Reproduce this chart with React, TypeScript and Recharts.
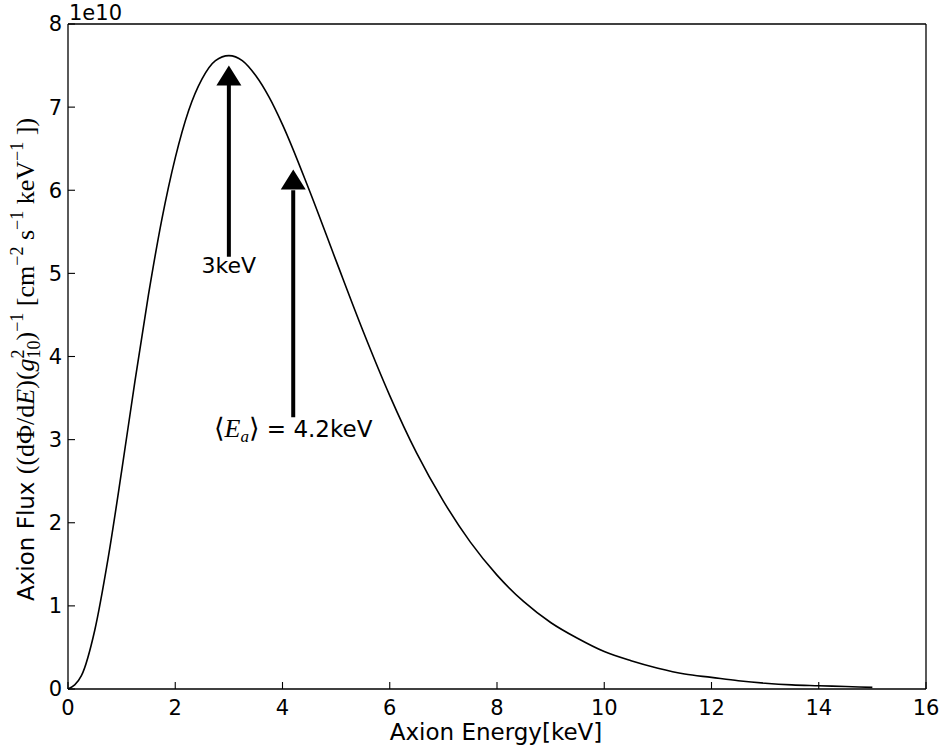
import React from 'react';
import { LineChart, Line, XAxis, YAxis, ReferenceLine, ReferenceDot } from 'recharts';

// energy grid [keV] and flux (units of 1e10)
const energy = [
  0, 0.25, 0.5, 0.75, 1, 1.25, 1.5, 1.75, 2, 2.25, 2.5, 2.75, 3, 3.25, 3.5, 3.75, 4,
  4.5, 5, 5.5, 6, 6.5, 7, 7.5, 8, 8.5, 9, 9.5, 10, 10.5, 11, 11.5, 12, 12.5, 13, 13.5,
  14, 14.5, 15,
];
const flux = [
  0, 0.16, 0.71, 1.58, 2.62, 3.71, 4.74, 5.65, 6.39, 6.96, 7.34, 7.56, 7.62, 7.56, 7.38,
  7.12, 6.79, 6.0, 5.15, 4.31, 3.53, 2.84, 2.26, 1.77, 1.37, 1.05, 0.8, 0.61, 0.45, 0.34,
  0.25, 0.18, 0.14, 0.1, 0.07, 0.05, 0.04, 0.03, 0.02,
];

const xTicks = [0, 2, 4, 6, 8, 10, 12, 14, 16];
const yTicks = [0, 1, 2, 3, 4, 5, 6, 7, 8];

// annotation arrows: x position, tip, neck (base of head), tail, text baseline
const arrowX = [3, 4.2];
const arrowTip = [7.5, 6.25];
const arrowNeck = [7.3, 6.0];
const arrowTail = [5.2, 3.27];
const arrowLabelY = [5.0, 3.03];

const data = energy.map((e, i) => ({ e, flux: flux[i] }));

const SANS = 'DejaVu Sans, sans-serif';
const SERIF = 'Liberation Serif, DejaVu Serif, serif';
const tickStyle = { fill: '#000', fontSize: 21, fontFamily: SANS };

function ArrowHead(props: any) {
  const { cx, cy } = props;
  return (
    <polygon
      points={`${cx},${cy} ${cx - 12.5},${cy + 20} ${cx + 12.5},${cy + 20}`}
      fill="#000"
    />
  );
}

function PeakLabel(props: any) {
  const { cx, cy } = props;
  return (
    <text x={cx} y={cy} textAnchor="middle" fontSize={22} fontFamily={SANS} fill="#000">
      3keV
    </text>
  );
}

function MeanLabel(props: any) {
  const { cx, cy } = props;
  return (
    <text x={cx} y={cy} textAnchor="middle" fontSize={23} fill="#000">
      <tspan fontFamily={SERIF} fontSize={27}>⟨</tspan>
      <tspan fontFamily={SERIF} fontSize={26} fontStyle="italic">E</tspan>
      <tspan fontFamily={SERIF} fontStyle="italic" fontSize={17} dy={5}>a</tspan>
      <tspan fontFamily={SERIF} fontSize={27} dy={-5}>{'⟩'}</tspan>
      <tspan fontFamily={SANS}>{' = 4.2keV'}</tspan>
    </text>
  );
}

function XTitle(props: any) {
  const vb = props.viewBox || { x: 68, y: 689, width: 858, height: 65 };
  return (
    <text x={vb.x + vb.width / 2 - 1} y={vb.y + 51} textAnchor="middle" fontSize={23} fontFamily={SANS} fill="#000">
      Axion Energy[keV]
    </text>
  );
}

function Exponent(props: any) {
  const vb = props.viewBox || { x: 68, y: 0, width: 858, height: 24 };
  return (
    <text x={vb.x + 1} y={20} fontSize={21} fontFamily={SANS} fill="#000">
      1e10
    </text>
  );
}

function YTitle(props: any) {
  const vb = props.viewBox || { x: 0, y: 24, width: 68, height: 665 };
  const cx = 34;
  const cy = vb.y + vb.height / 2 + 3;
  const m = { fontFamily: SERIF, fontSize: 26 };
  const sup = { fontFamily: SERIF, fontSize: 18 };
  return (
    <text x={cx} y={cy} transform={`rotate(-90, ${cx}, ${cy})`} textAnchor="middle" fontSize={23} fill="#000">
      <tspan fontFamily={SANS}>{'Axion Flux '}</tspan>
      <tspan {...m}>((dΦ/d</tspan>
      <tspan {...m} fontStyle="italic">E</tspan>
      <tspan {...m}>)(</tspan>
      <tspan {...m} fontStyle="italic">g</tspan>
      <tspan {...sup} dy={-10}>2</tspan>
      <tspan {...sup} dx={-9} dy={16}>10</tspan>
      <tspan {...m} dy={-6}>)</tspan>
      <tspan {...sup} dy={-11}>−1</tspan>
      <tspan {...m} dy={11}>{' [cm'}</tspan>
      <tspan {...sup} dy={-11}>−2</tspan>
      <tspan {...m} dy={11}>{' s'}</tspan>
      <tspan {...sup} dy={-11}>−1</tspan>
      <tspan {...m} dy={11}>{' keV'}</tspan>
      <tspan {...sup} dy={-11}>−1</tspan>
      <tspan {...m} dy={11}>{' ])'}</tspan>
    </text>
  );
}

export default function App() {
  return (
    <div style={{ position: 'absolute', left: 0, top: 0, width: 946, height: 754, background: '#fff' }}>
      <LineChart width={946} height={754} data={data} margin={{ top: 0, right: 0, bottom: 0, left: 0 }}>
        <XAxis
          dataKey="e"
          type="number"
          domain={[0, 16]}
          ticks={xTicks}
          interval={0}
          height={65}
          tickSize={-7}
          tickMargin={18}
          tick={tickStyle}
          stroke="#000"
          axisLine={{ stroke: '#000', strokeWidth: 1.3 }}
          tickLine={{ stroke: '#000', strokeWidth: 1.1 }}
          label={{ content: XTitle }}
        />
        <XAxis
          xAxisId="top"
          orientation="top"
          dataKey="e"
          type="number"
          domain={[0, 16]}
          ticks={xTicks}
          interval={0}
          height={24}
          tickSize={-7}
          tick={false}
          axisLine={{ stroke: '#000', strokeWidth: 1.3 }}
          tickLine={{ stroke: '#000', strokeWidth: 1.1 }}
          label={{ content: Exponent }}
        />
        <YAxis
          type="number"
          domain={[0, 8]}
          ticks={yTicks}
          interval={0}
          width={68}
          tickSize={-7}
          tickMargin={13}
          tick={tickStyle}
          axisLine={{ stroke: '#000', strokeWidth: 1.3 }}
          tickLine={{ stroke: '#000', strokeWidth: 1.1 }}
          label={{ content: YTitle }}
        />
        <YAxis
          yAxisId="right"
          orientation="right"
          type="number"
          domain={[0, 8]}
          ticks={yTicks}
          interval={0}
          width={20}
          tickSize={-7}
          tick={false}
          axisLine={{ stroke: '#000', strokeWidth: 1.3 }}
          tickLine={{ stroke: '#000', strokeWidth: 1.1 }}
        />
        <Line
          type="monotone"
          dataKey="flux"
          stroke="#000"
          strokeWidth={1.6}
          dot={false}
          activeDot={false}
          isAnimationActive={false}
        />
        {arrowX.map((x, i) => (
          <ReferenceLine
            key={`shaft-${i}`}
            segment={[
              { x, y: arrowTail[i] },
              { x, y: arrowNeck[i] },
            ]}
            stroke="#000"
            strokeWidth={4}
          />
        ))}
        {arrowX.map((x, i) => (
          <ReferenceDot key={`head-${i}`} x={x} y={arrowTip[i]} r={0} shape={ArrowHead} />
        ))}
        <ReferenceDot x={arrowX[0]} y={arrowLabelY[0]} r={0} shape={PeakLabel} />
        <ReferenceDot x={arrowX[1]} y={arrowLabelY[1]} r={0} shape={MeanLabel} />
      </LineChart>
    </div>
  );
}
